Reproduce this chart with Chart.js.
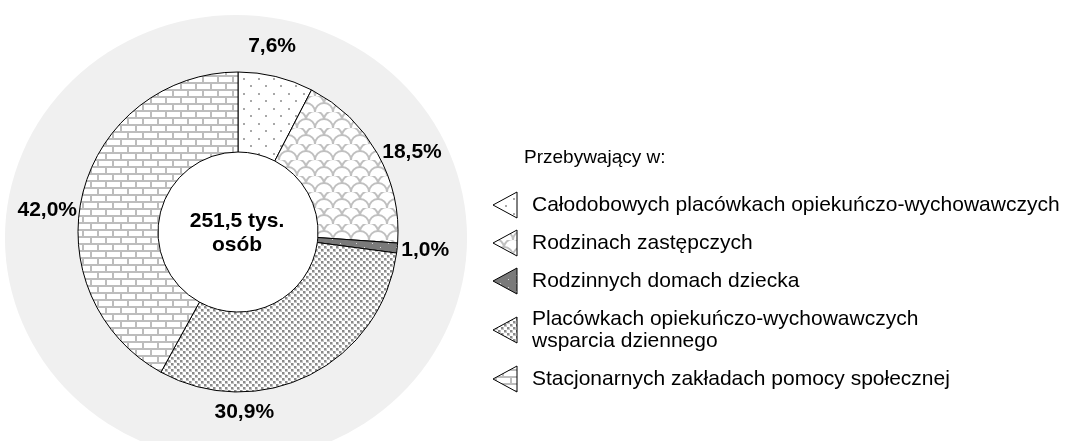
<!DOCTYPE html>
<html><head><meta charset="utf-8">
<script src="https://cdn.jsdelivr.net/npm/chart.js@4/dist/chart.umd.min.js"></script>
<style>html,body{margin:0;padding:0;background:#fff;overflow:hidden}#wrap{width:1070px;height:441px;position:relative}</style>
</head><body><div id="wrap"><canvas id="c" width="1070" height="441"></canvas></div>
<script>
// ---- data ----
const categories = [
  "Całodobowych placówkach opiekuńczo-wychowawczych",
  "Rodzinach zastępczych",
  "Rodzinnych domach dziecka",
  ["Placówkach opiekuńczo-wychowawczych", "wsparcia dziennego"],
  "Stacjonarnych zakładach pomocy społecznej"
];
const shares = [7.6, 18.5, 1.0, 30.9, 42.0];
const valueLabels = ["7,6%", "18,5%", "1,0%", "30,9%", "42,0%"];
const legendTitle = "Przebywający w:";
const centerText = ["251,5 tys.", "osób"];

// ---- styles ----
const FONT = '"Liberation Sans", Arial, sans-serif';
const labelPolar = [[10.4, 1.18], [65.3, 1.197], [95.5, 1.175], [178, 1.125], [276.6, 1.2]];

const canvas = document.getElementById('c');
const ctx = canvas.getContext('2d');

function mk(w, h, draw) {
  const c = document.createElement('canvas'); c.width = w; c.height = h;
  const x = c.getContext('2d'); draw(x, w, h);
  return ctx.createPattern(c, 'repeat');
}
const pDots = mk(15, 15, (x, w, h) => {
  x.fillStyle = '#fff'; x.fillRect(0, 0, w, h);
  x.fillStyle = '#a8a8a8'; x.fillRect(3, 3, 2, 2); x.fillRect(10, 10, 2, 2);
});
const pScale = mk(18, 16, (x, w, h) => {
  x.fillStyle = '#fff'; x.fillRect(0, 0, w, h);
  x.strokeStyle = '#c0c0c0'; x.lineWidth = 2;
  x.beginPath(); x.arc(9, 8, 9, Math.PI, 2 * Math.PI); x.stroke();
  x.beginPath(); x.arc(0, 16, 9, Math.PI, 2 * Math.PI); x.stroke();
  x.beginPath(); x.arc(18, 16, 9, Math.PI, 2 * Math.PI); x.stroke();
  x.beginPath(); x.arc(0, 0, 9, Math.PI, 2 * Math.PI); x.stroke();
  x.beginPath(); x.arc(18, 0, 9, Math.PI, 2 * Math.PI); x.stroke();
});
const pDark = mk(16, 8, (x, w, h) => {
  x.fillStyle = '#7a7a7a'; x.fillRect(0, 0, w, h);
  x.fillStyle = '#d8d8d8'; x.fillRect(4, 3, 1, 1); x.fillRect(12, 7, 1, 1);
});
const pDense = mk(6, 6, (x, w, h) => {
  x.fillStyle = '#fff'; x.fillRect(0, 0, w, h);
  x.fillStyle = '#c4c4c4'; x.fillRect(0, 0, 3, 3); x.fillRect(3, 3, 3, 3);
  x.fillStyle = '#8a8a8a'; x.fillRect(0, 0, 2, 2); x.fillRect(3, 3, 2, 2);
});
const pBrick = mk(15, 14, (x, w, h) => {
  x.fillStyle = '#fff'; x.fillRect(0, 0, w, h);
  x.fillStyle = '#bdbdbd';
  x.fillRect(0, 5, 15, 2); x.fillRect(0, 12, 15, 2);
  x.fillRect(0, 0, 2, 5); x.fillRect(7, 7, 2, 5);
});
const patterns = [pDots, pScale, pDark, pDense, pBrick];

function geom(chart) {
  const arc = chart.getDatasetMeta(0).data[0];
  return { x: arc.x, y: arc.y, R: arc.outerRadius, r: arc.innerRadius };
}

const bgPlugin = {
  id: 'bg',
  beforeDatasetsDraw(chart) {
    const g = geom(chart), c = chart.ctx;
    c.save();
    c.fillStyle = '#f0f0f0';
    c.beginPath(); c.ellipse(g.x - 2, g.y + 6, g.R * 1.444, g.R * 1.394, 0, 0, 2 * Math.PI); c.fill();
    c.fillStyle = '#fff';
    c.beginPath(); c.arc(g.x, g.y, g.r, 0, 2 * Math.PI); c.fill();
    c.restore();
  }
};

const labelPlugin = {
  id: 'labels',
  afterDatasetsDraw(chart) {
    const g = geom(chart), c = chart.ctx;
    c.save();
    c.fillStyle = '#000'; c.textAlign = 'center'; c.textBaseline = 'middle';
    c.font = 'bold 21px ' + FONT;
    valueLabels.forEach((t, i) => {
      const a = labelPolar[i][0] * Math.PI / 180, rr = g.R * labelPolar[i][1];
      c.fillText(t, g.x + rr * Math.sin(a), g.y - rr * Math.cos(a));
    });
    c.fillText(centerText[0], g.x - 1, g.y - 11);
    c.fillText(centerText[1], g.x - 1, g.y + 13);
    c.restore();
  }
};

const legendPlugin = {
  id: 'customLegend',
  afterDraw(chart) {
    const c = chart.ctx;
    const ds = chart.data.datasets[0];
    c.save();
    c.fillStyle = '#000'; c.textAlign = 'left'; c.textBaseline = 'middle';
    c.font = '19px ' + FONT;
    c.fillText(legendTitle, 524, 158);
    c.font = '21px ' + FONT;
    let y = 205;
    const lineH = 22, pitch = 38;
    chart.data.labels.forEach((lab, i) => {
      const lines = Array.isArray(lab) ? lab : [lab];
      const extra = (lines.length - 1) * lineH;
      const cy = y + extra / 2;
      c.beginPath();
      c.moveTo(493, cy); c.lineTo(517, cy - 13); c.lineTo(517, cy + 13); c.closePath();
      c.fillStyle = ds.backgroundColor[i]; c.fill();
      c.strokeStyle = '#000'; c.lineWidth = 1; c.stroke();
      c.fillStyle = '#000';
      lines.forEach((ln, k) => c.fillText(ln, 532, y + k * lineH));
      y += pitch + extra;
    });
    c.restore();
  }
};

new Chart(ctx, {
  type: 'doughnut',
  data: {
    labels: categories,
    datasets: [{ data: shares, backgroundColor: patterns, borderColor: '#000', borderWidth: 1, hoverOffset: 0 }]
  },
  options: {
    responsive: false, animation: false, events: [],
    cutout: '50%',
    layout: { padding: { left: 77.5, right: 671.5, top: 71.5, bottom: 48.5 } },
    plugins: { legend: { display: false }, tooltip: { enabled: false } }
  },
  plugins: [bgPlugin, labelPlugin, legendPlugin]
});
</script></body></html>
